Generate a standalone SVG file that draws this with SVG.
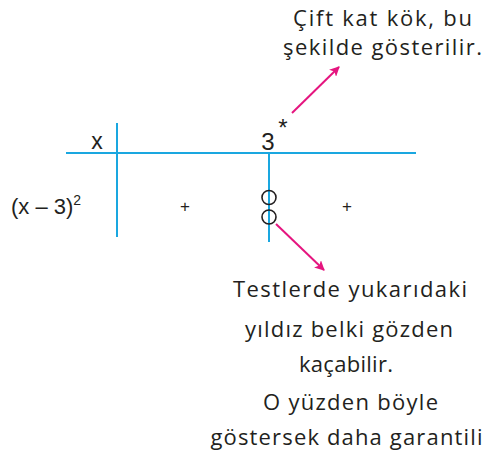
<svg xmlns="http://www.w3.org/2000/svg" width="483" height="458" viewBox="0 0 483 458">
<style>
.ax{stroke:#1aa7e0;stroke-width:2;fill:none}
.pk{stroke:#e5157f;stroke-width:2;fill:none}
.t{font-family:"Open Sans","DejaVu Sans",sans-serif;fill:#231f20;font-size:22px}
.n{font-family:"Liberation Sans",Arial,sans-serif;fill:#231f20}
.c{fill:none;stroke:#231f20;stroke-width:1.6}
</style>
<defs>
<marker id="ah" viewBox="0 0 10 10" refX="9" refY="5" markerWidth="5" markerHeight="5" orient="auto" markerUnits="strokeWidth">
<path d="M0,0 L10,5 L0,10 L2.5,5 Z" fill="#e5157f"/>
</marker>
</defs>
<g id="table">
<line class="ax" x1="66" y1="153" x2="416" y2="153"/>
<line class="ax" x1="117" y1="123" x2="117" y2="237"/>
<line class="ax" x1="269" y1="153" x2="269" y2="242"/>
<text class="n" x="97" y="149" font-size="23" text-anchor="middle">x</text>
<text class="n" x="268" y="150" font-size="24" text-anchor="middle">3</text>
<text class="n" x="283" y="136" font-size="24" text-anchor="middle">*</text>
<text class="n" x="11" y="214" font-size="22">(x – 3)<tspan font-size="14" dy="-9">2</tspan></text>
<text class="n" x="185" y="212" font-size="17" text-anchor="middle">+</text>
<text class="n" x="347" y="212" font-size="17" text-anchor="middle">+</text>
</g>
<g id="circles">
<circle class="c" cx="269" cy="197.5" r="7"/>
<circle class="c" cx="269" cy="217" r="7"/>
</g>
<g id="note-top">
<text class="t" x="382.5" y="26" text-anchor="middle" textLength="179" lengthAdjust="spacing">Çift kat kök, bu</text>
<text class="t" x="382.5" y="55" text-anchor="middle" textLength="199" lengthAdjust="spacing">şekilde gösterilir.</text>
</g>
<g id="note-bottom">
<text class="t" x="350" y="297" text-anchor="middle" textLength="234" lengthAdjust="spacing">Testlerde yukarıdaki</text>
<text class="t" x="349" y="337" text-anchor="middle" textLength="208" lengthAdjust="spacing">yıldız belki gözden</text>
<text class="t" x="346" y="372" text-anchor="middle" textLength="94" lengthAdjust="spacing">kaçabilir.</text>
<text class="t" x="350.5" y="410" text-anchor="middle" textLength="175" lengthAdjust="spacing">O yüzden böyle</text>
<text class="t" x="346.5" y="445" text-anchor="middle" textLength="272" lengthAdjust="spacing">göstersek daha garantili</text>
</g>
<g id="connectors">
<line class="pk" x1="292" y1="113" x2="339" y2="67" marker-end="url(#ah)"/>
<line class="pk" x1="276" y1="224" x2="324" y2="270" marker-end="url(#ah)"/>
</g>
</svg>
